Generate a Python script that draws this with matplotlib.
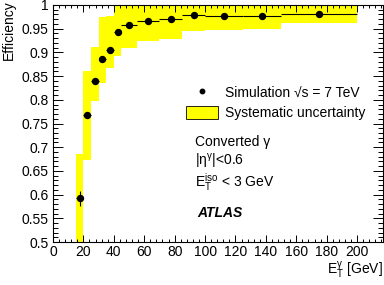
import numpy as np
import matplotlib
matplotlib.use('Agg')
import matplotlib.pyplot as plt
from matplotlib.ticker import MultipleLocator, FixedLocator, FixedFormatter
from matplotlib.lines import Line2D
from matplotlib.patches import Patch

# converted photons, |eta|<0.6, isolation efficiency vs E_T
bin_edges = [15, 20, 25, 30, 35, 40, 45, 55, 70, 85, 100, 125, 150, 200]
efficiency = [0.592, 0.767, 0.840, 0.887, 0.906, 0.942, 0.957, 0.966, 0.970, 0.979, 0.976, 0.977, 0.981]
stat_err = [0.016, 0.006, 0.005, 0.004, 0.004, 0.003, 0.003, 0.002, 0.002, 0.002, 0.002, 0.002, 0.002]
sys_low = [0.498, 0.673, 0.797, 0.835, 0.867, 0.893, 0.910, 0.925, 0.929, 0.945, 0.947, 0.949, 0.962]
sys_high = [0.686, 0.861, 0.911, 0.975, 0.977, 1.0, 1.0, 1.0, 1.0, 1.0, 1.0, 1.0, 1.0]

y_ticks = [0.5, 0.55, 0.6, 0.65, 0.7, 0.75, 0.8, 0.85, 0.9, 0.95, 1.0]
y_labels = ['0.5', '0.55', '0.6', '0.65', '0.7', '0.75', '0.8', '0.85', '0.9', '0.95', '1']


def main():
	plt.rcParams['font.family'] = ['Liberation Sans', 'DejaVu Sans']
	plt.rcParams['mathtext.fontset'] = 'custom'
	plt.rcParams['mathtext.rm'] = 'Liberation Sans'
	plt.rcParams['mathtext.it'] = 'Liberation Sans:italic'
	plt.rcParams['mathtext.bf'] = 'Liberation Sans:bold'

	W, H = 384, 285
	fig = plt.figure(figsize=(W/100, H/100), dpi=100)
	ax = fig.add_axes([53/W, 1-242/H, (383-53)/W, (242-5)/H])

	edges = np.array(bin_edges, dtype=float)
	lo = np.array(edges[:-1])
	width = np.diff(edges)
	centers = lo + width/2
	eff = np.array(efficiency)
	slo = np.array(sys_low)
	shi = np.array(sys_high)

	#systematic band
	ax.bar(lo, shi-slo, width=width, bottom=slo, align='edge', color='#ffff00', linewidth=0, zorder=1)
	#points with stat errors
	ax.errorbar(centers, eff, xerr=width/2, yerr=stat_err, fmt='o', color='black',
		markersize=4.3, elinewidth=0.8, capsize=0, zorder=3)

	ax.set_xlim(0, 217)
	ax.set_ylim(0.5, 1.0)

	ax.xaxis.set_major_locator(MultipleLocator(20))
	ax.xaxis.set_minor_locator(MultipleLocator(4))
	ax.yaxis.set_major_locator(FixedLocator(y_ticks))
	ax.yaxis.set_major_formatter(FixedFormatter(y_labels))
	ax.yaxis.set_minor_locator(MultipleLocator(0.01))

	ax.tick_params(axis='both', which='both', direction='in', top=True, right=True, width=0.7, labelsize=10)
	ax.tick_params(axis='x', which='major', length=5, pad=2)
	ax.tick_params(axis='x', which='minor', length=2.5)
	ax.tick_params(axis='y', which='major', length=7, pad=3)
	ax.tick_params(axis='y', which='minor', length=3.6)
	for s in ax.spines.values():
		s.set_linewidth(0.8)

	handles = [Line2D([], [], marker='o', color='black', linestyle='none', markersize=3.2),
		Patch(facecolor='#ffff00', edgecolor='black', linewidth=0.6)]
	leg = ax.legend(handles, ['Simulation \u221as = 7 TeV', 'Systematic uncertainty'],
		loc='upper left', bbox_to_anchor=(186/W, 1-85/H), bbox_transform=fig.transFigure,
		frameon=False, fontsize=10, borderpad=0, borderaxespad=0, handlelength=2.3,
		handleheight=1.1, handletextpad=0.5, labelspacing=0.45)

	fig.text(195/W, 1-146/H, 'Converted \u03b3', fontsize=10, va='baseline')
	fig.text(195/W, 1-166/H, r'$\mathregular{|\eta^{\gamma}|}$<0.6', fontsize=10, va='baseline')
	fig.text(195/W, 1-187/H, r'$\mathregular{E_{T}^{iso}}$ < 3 GeV', fontsize=10, va='baseline')
	fig.text(197/W, 1-217/H, 'ATLAS', fontsize=10, fontweight='bold', fontstyle='italic', va='baseline')

	fig.text(383/W, 1-270/H, r'$\mathregular{E_{T}^{\gamma}}$ [GeV]', fontsize=10, ha='right', va='center')
	fig.text(9/W, 1.0, 'Efficiency', fontsize=10, rotation=90, ha='center', va='top')

	plt.savefig('out.png', dpi=100)


main()
